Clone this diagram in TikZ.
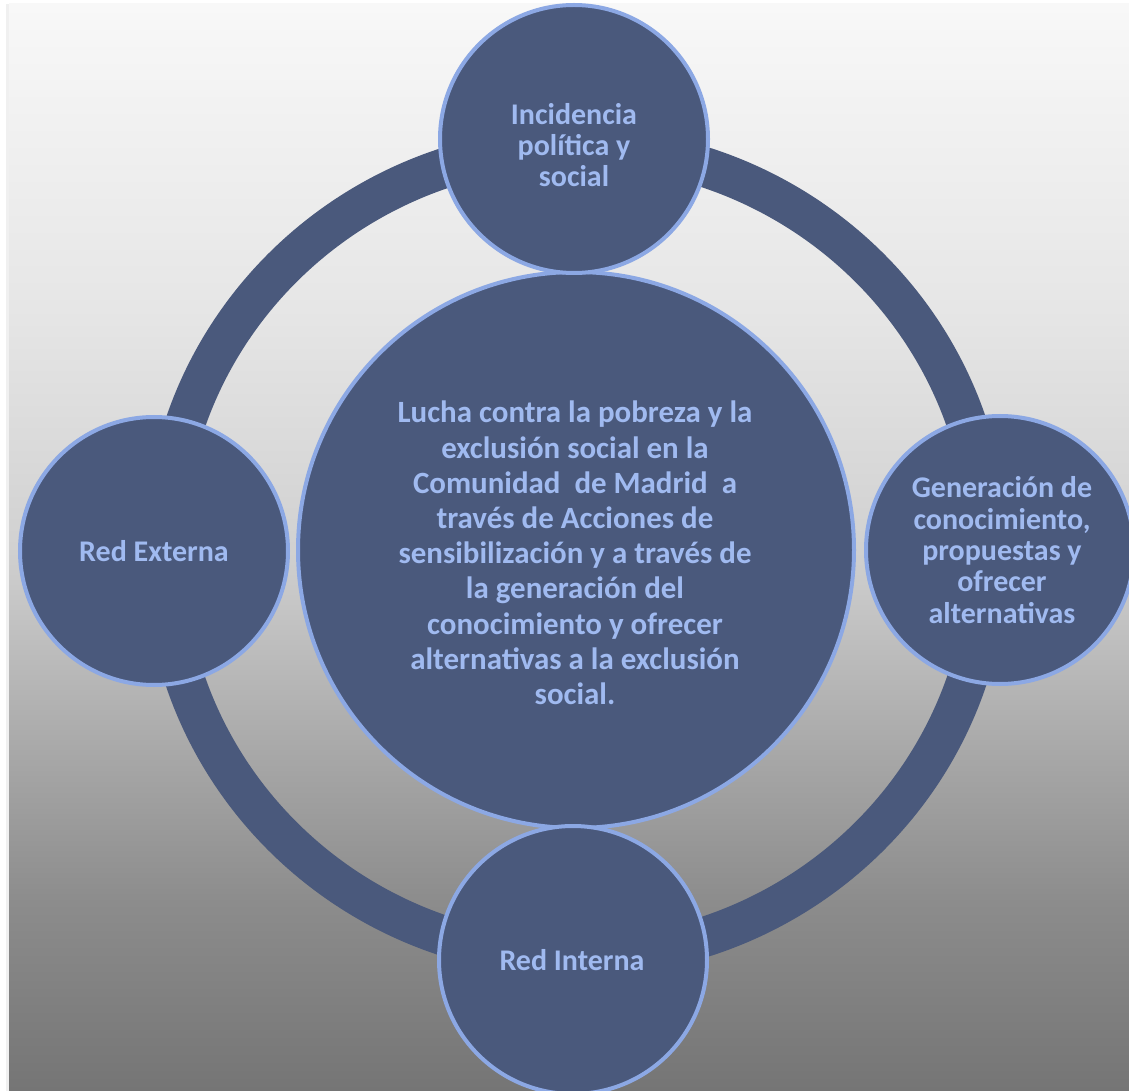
\documentclass[tikz,border=0pt]{standalone}
\usepackage{fontspec}
\setmainfont{Carlito}
\definecolor{fillc}{RGB}{74,89,124}
\definecolor{edgec}{RGB}{140,168,228}
\definecolor{txtc}{RGB}{160,186,240}
\definecolor{gA}{RGB}{248,248,248}
\definecolor{gB}{RGB}{230,230,230}
\definecolor{gC}{RGB}{209,209,209}
\definecolor{gD}{RGB}{168,168,168}
\definecolor{gE}{RGB}{140,140,140}
\definecolor{gF}{RGB}{117,117,117}
\pgfdeclareverticalshading{bgshade}{100bp}{color(0bp)=(gF); color(25bp)=(gF); color(33.7bp)=(gE); color(40.6bp)=(gD); color(50bp)=(gC); color(61bp)=(gB); color(75bp)=(gA); color(100bp)=(gA)}
\tikzset{
  bubble/.style={circle, fill=fillc, draw=edgec, line width=3pt, inner sep=0pt},
  bigc/.style={bubble, minimum size=417pt},
  satc/.style={bubble, minimum size=201pt},
  lbl/.style={text=txtc, font=\fontsize{22.5}{23.5}\selectfont\bfseries, align=center, inner sep=0pt},
  biglbl/.style={text=txtc, font=\fontsize{23.2}{26.4}\selectfont\bfseries, align=center, inner sep=0pt},
  ringline/.style={draw=fillc, line width=30pt}
}
\begin{document}
\begin{tikzpicture}[x=0.75pt,y=-0.75pt]
\fill[white] (0,0) rectangle (1129,1091);
\useasboundingbox (0,0) rectangle (1129,1091);
\fill[black!6] (6,4) rectangle (10,1091);
\shade[shading=bgshade] (9,4) rectangle (1129,1091);
\draw[ringline] (576,552) ellipse [x radius=309pt, y radius=303.75pt];
\node[bigc] (core) at (576,550) {};
\node[satc] (top) at (574,139) {};
\node[satc] (left) at (154,551) {};
\node[satc] (right) at (1000,550) {};
\node[satc] (bottom) at (573,960) {};
\node[biglbl] (coretext) at (575,553) {Lucha contra la pobreza y la\\exclusión social en la\\Comunidad\ \ de Madrid\ \ a\\través de Acciones de\\sensibilización y a través de\\la generación del\\conocimiento y ofrecer\\alternativas a la exclusión\\social.};
\node[lbl] (toptext) at (574,145) {Incidencia\\política y\\social};
\node[lbl] (lefttext) at (154,551) {Red Externa};
\node[lbl] (righttext) at (1002,550) {Generación de\\conocimiento,\\propuestas y\\ofrecer\\alternativas};
\node[lbl] (bottomtext) at (572,960) {Red Interna};
\end{tikzpicture}
\end{document}
